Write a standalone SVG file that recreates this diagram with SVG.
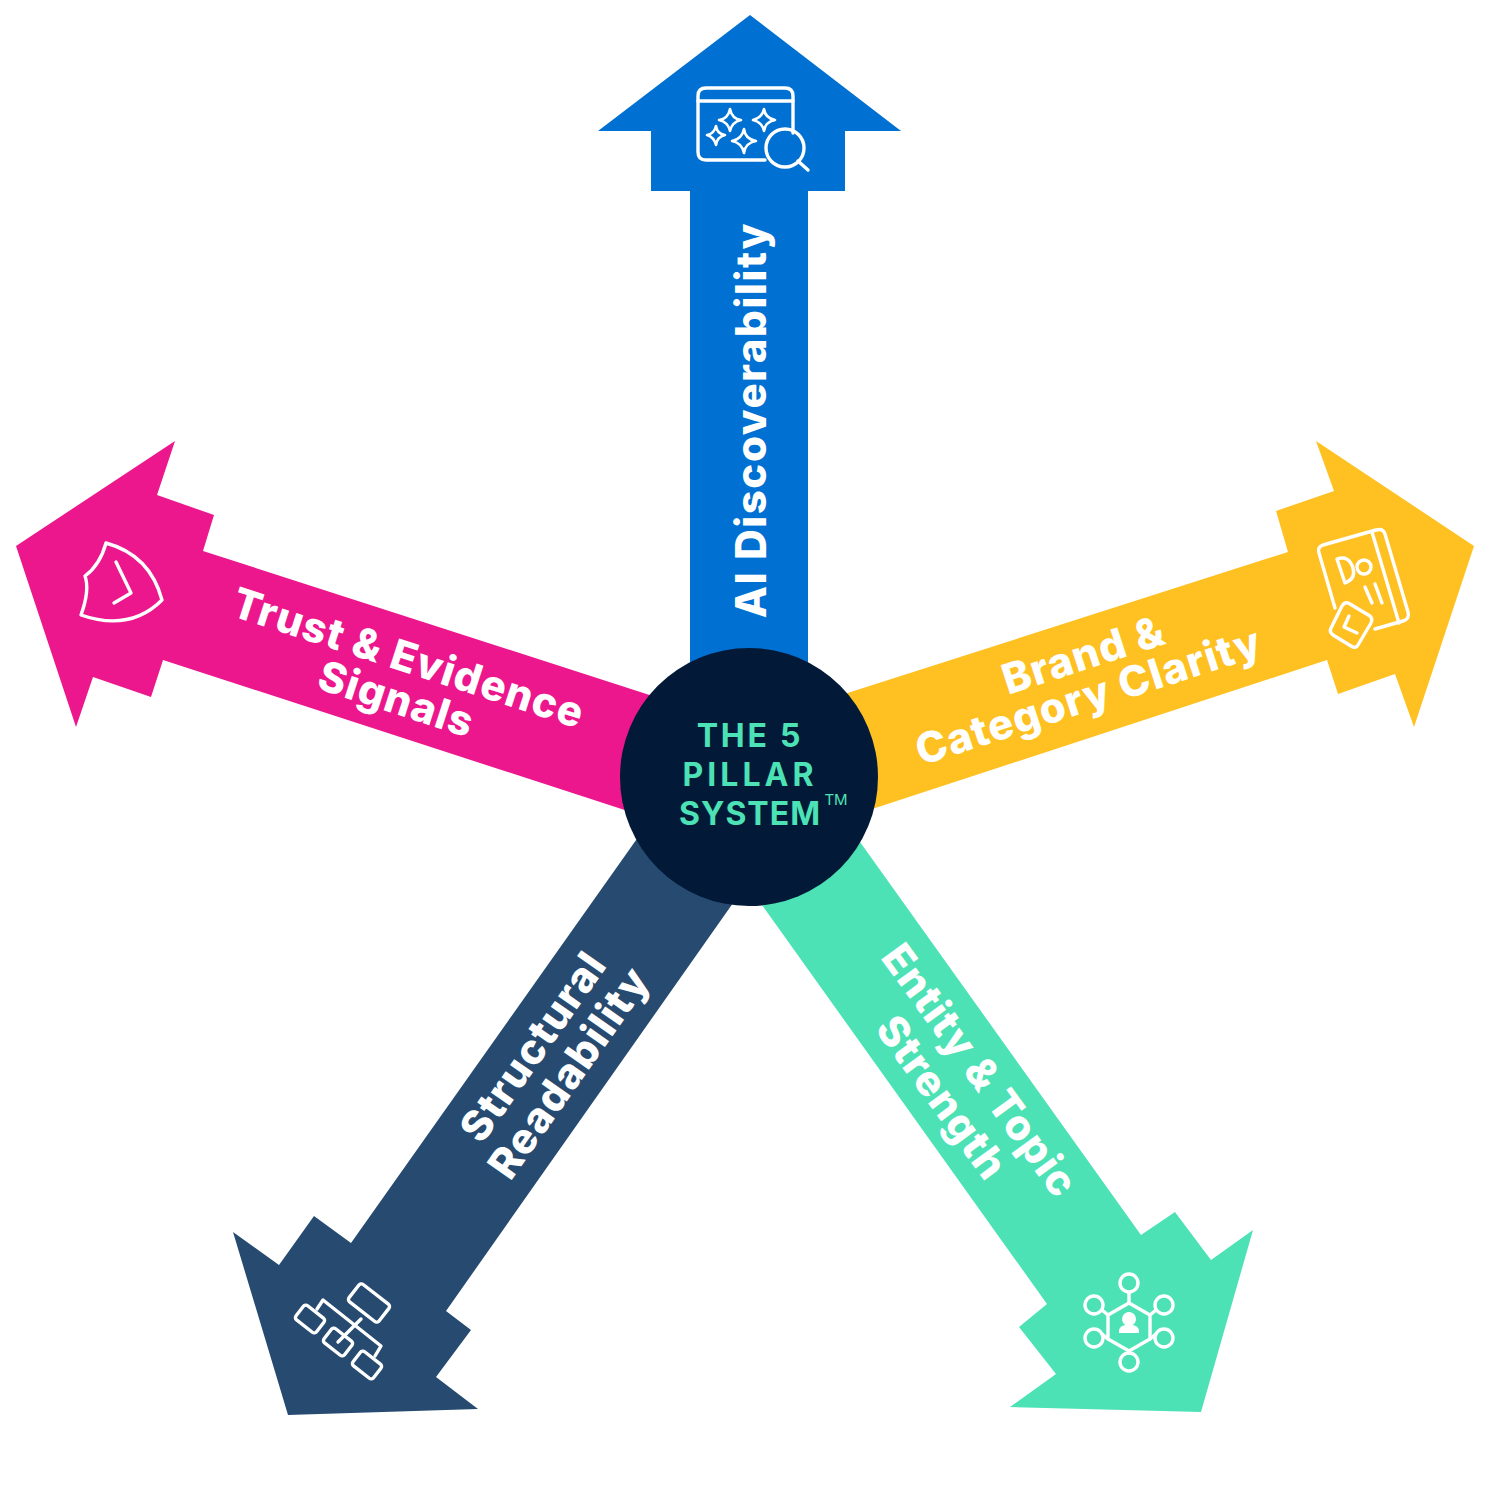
<svg xmlns="http://www.w3.org/2000/svg" width="1500" height="1500" viewBox="0 0 1500 1500">
<style>
.lbl{font-family:"Inter","Lato","Liberation Sans",sans-serif;font-weight:800;fill:#fff;text-anchor:middle;font-size:42px;letter-spacing:1.1px}
.ic{fill:none;stroke:#fff;stroke-width:3.4;stroke-linecap:round;stroke-linejoin:round}
.ct{font-family:"Inter","Lato","Liberation Sans",sans-serif;font-weight:700;fill:#4DE2B5;text-anchor:middle;font-size:32px;letter-spacing:1.5px}
</style>
<rect width="1500" height="1500" fill="#fff"/>
<g id="connectors">
<polygon fill="#0070D2" points="750,15 901,131 845,131 845,191 808,191 808,680 690,680 690,191 651,191 651,131 598,131"/>
<polygon fill="#EC178D" points="175,441 16,546 76,727 93,677 151,697 163,660 640,815 665,700 203,551 214,515 157,495"/>
<polygon fill="#FFC021" points="1316,441 1474,546 1414,727 1395,674 1338,694 1327,660 860,813 835,697 1288,552 1276,511 1334,491"/>
<polygon fill="#274B70" points="233,1232 288,1415 478,1409 436,1377 471,1330 446,1311 745,886 646,826 351,1243 314,1216 279,1265"/>
<polygon fill="#4CE2B5" points="1253,1230 1201,1412 1010,1407 1056,1374 1019,1327 1047,1304 752,891 850,828 1141,1235 1175,1212 1211,1260"/>
</g>
<g id="node-ai-discoverability">
<text class="lbl" transform="translate(766,420) rotate(-90)" style="letter-spacing:1.6px">AI Discoverability</text>
<g class="ic">
<path d="M793,133V96Q793,88 785,88H706Q698,88 698,96V152Q698,160 706,160H765"/>
<path d="M698,101H793"/>
<path d="M730,109Q732,119 741,120Q732,122 730,131Q728,122 719,120Q728,119 730,109Z" stroke-width="2.6"/>
<path d="M764,109Q765,118 775,120Q765,122 764,131Q762,122 753,120Q762,118 764,109Z" stroke-width="2.6"/>
<path d="M716,126Q717,134 725,135Q717,137 716,145Q714,137 707,135Q714,134 716,126Z" stroke-width="2.6"/>
<path d="M744,129Q745,139 756,141Q745,143 744,153Q742,143 732,141Q742,139 744,129Z" stroke-width="2.6"/>
<circle cx="785" cy="148" r="19"/>
<path d="M798,161L808,170"/>
</g>
</g>
<g id="node-brand-category">
<text class="lbl" transform="translate(1088,669) rotate(-18)">Brand &amp;</text>
<text class="lbl" transform="translate(1093,710) rotate(-18)">Category Clarity</text>
<g class="ic">
<path d="M1335,608L1319,553Q1317,547 1323,545L1376,530Q1383,528 1385,534L1408,612Q1410,619 1403,621L1375,629"/>
<path d="M1372,532L1399,623"/>
<path d="M1345,583L1337,559Q1349,555 1353,568Q1356,579 1345,583Z"/>
<circle cx="1364" cy="567" r="7"/>
<path d="M1365,587L1372,603M1375,584L1382,603"/>
<path d="M1331,628L1342,606Q1345,601 1350,604L1370,616Q1373,619 1371,623L1358,645Q1356,649 1351,646L1333,635Q1329,632 1331,628Z"/>
<path d="M1349,616L1344,627L1357,633"/>
</g>
</g>
<g id="node-trust-evidence">
<text class="lbl" transform="translate(404,672) rotate(18)">Trust &amp; Evidence</text>
<text class="lbl" transform="translate(392,713) rotate(18)">Signals</text>
<g class="ic">
<path d="M106,543Q150,555 162,600Q130,632 81,615Q90,590 85,576Q100,565 106,543Z"/>
<path d="M116,562L131,593L114,603"/>
</g>
</g>
<g id="node-structural">
<text class="lbl" transform="translate(545,1055) rotate(-55)">Structural</text>
<text class="lbl" transform="translate(581,1081) rotate(-55)">Readability</text>
<g class="ic">
<rect x="-19" y="-11" width="38" height="22" rx="3" transform="translate(369,1303) rotate(38)"/>
<rect x="-13" y="-9" width="26" height="18" rx="3" transform="translate(310,1319) rotate(38)"/>
<rect x="-13" y="-9" width="26" height="18" rx="3" transform="translate(338,1342) rotate(38)"/>
<rect x="-13" y="-9" width="26" height="18" rx="3" transform="translate(367,1365) rotate(38)"/>
<path d="M317,1309L323,1300L381,1346L375,1356M361,1319L338,1342"/>
</g>
</g>
<g id="node-entity-topic">
<text class="lbl" transform="translate(968,1079) rotate(54)">Entity &amp; Topic</text>
<text class="lbl" transform="translate(930,1106) rotate(54)">Strength</text>
<g class="ic">
<path d="M1129,1303L1150,1315V1339L1129,1351L1108,1339V1315Z"/>
<circle cx="1129" cy="1283" r="9"/><circle cx="1129" cy="1362" r="9"/>
<circle cx="1094" cy="1305" r="9"/><circle cx="1164" cy="1305" r="9"/>
<circle cx="1094" cy="1338" r="9"/><circle cx="1164" cy="1338" r="9"/>
<path d="M1129,1292V1303M1129,1351V1353M1102,1310L1108,1315M1156,1310L1150,1315M1102,1334L1108,1339M1156,1334L1150,1339"/>
</g>
<circle cx="1129" cy="1319" r="7" fill="#fff"/>
<path d="M1119,1333V1330Q1120,1326 1125,1325H1133Q1138,1326 1139,1330V1333Z" fill="#fff"/>
</g>
<g id="node-center">
<circle cx="749" cy="777" r="129" fill="#021A38"/>
<text class="ct" x="750" y="747" style="letter-spacing:2.8px">THE 5</text>
<text class="ct" x="750" y="786" style="letter-spacing:4px">PILLAR</text>
<text class="ct" x="750" y="825" style="letter-spacing:1px">SYSTEM</text>
<text x="836" y="805" style="font-family:'Inter','Liberation Sans',sans-serif;font-weight:400;fill:#4DE2B5;font-size:15px;text-anchor:middle">TM</text>
</g>
</svg>
